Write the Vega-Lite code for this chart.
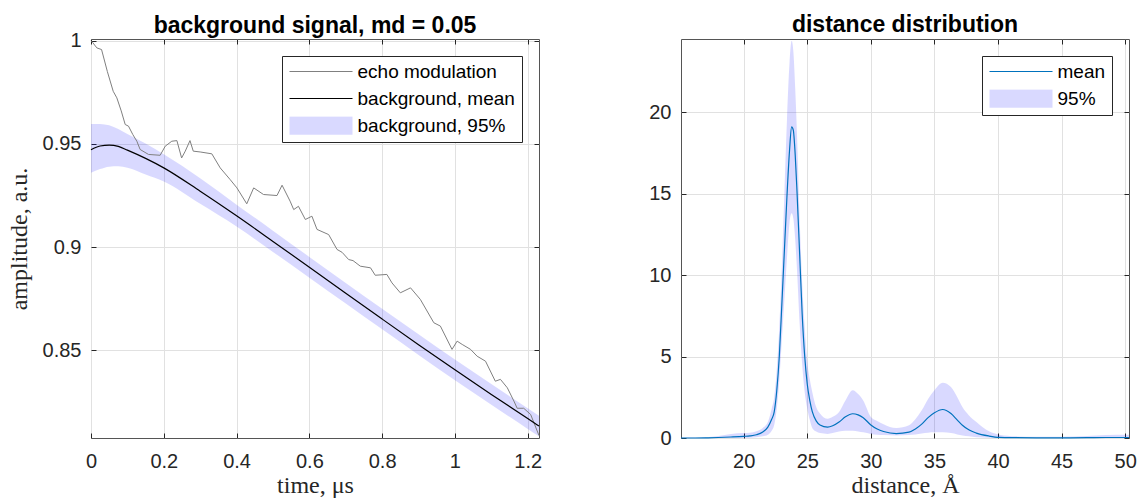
{
  "$schema": "https://vega.github.io/schema/vega-lite/v6.json",
  "background": "white",
  "padding": {"left": 6, "top": 13, "right": 0, "bottom": 0},
  "bounds": "flush",
  "spacing": 142,
  "datasets": {
    "echo": [
      {"t": 0.000, "amp": 1.0000}, {"t": 0.005, "amp": 0.9990}, {"t": 0.016, "amp": 0.9965}, {"t": 0.029, "amp": 0.9957},
      {"t": 0.045, "amp": 0.9850}, {"t": 0.061, "amp": 0.9755}, {"t": 0.071, "amp": 0.9723}, {"t": 0.083, "amp": 0.9660},
      {"t": 0.094, "amp": 0.9594}, {"t": 0.103, "amp": 0.9586}, {"t": 0.115, "amp": 0.9545}, {"t": 0.126, "amp": 0.9513},
      {"t": 0.135, "amp": 0.9473}, {"t": 0.158, "amp": 0.9449}, {"t": 0.190, "amp": 0.9445}, {"t": 0.204, "amp": 0.9489},
      {"t": 0.222, "amp": 0.9513}, {"t": 0.236, "amp": 0.9516}, {"t": 0.249, "amp": 0.9432}, {"t": 0.259, "amp": 0.9465},
      {"t": 0.272, "amp": 0.9516}, {"t": 0.281, "amp": 0.9465}, {"t": 0.300, "amp": 0.9461}, {"t": 0.332, "amp": 0.9452},
      {"t": 0.355, "amp": 0.9384}, {"t": 0.382, "amp": 0.9328}, {"t": 0.401, "amp": 0.9287}, {"t": 0.428, "amp": 0.9210},
      {"t": 0.447, "amp": 0.9287}, {"t": 0.474, "amp": 0.9255}, {"t": 0.511, "amp": 0.9250}, {"t": 0.525, "amp": 0.9300},
      {"t": 0.547, "amp": 0.9223}, {"t": 0.557, "amp": 0.9182}, {"t": 0.570, "amp": 0.9198}, {"t": 0.589, "amp": 0.9134},
      {"t": 0.607, "amp": 0.9150}, {"t": 0.621, "amp": 0.9086}, {"t": 0.653, "amp": 0.9061}, {"t": 0.676, "amp": 0.8989},
      {"t": 0.690, "amp": 0.8975}, {"t": 0.708, "amp": 0.8940}, {"t": 0.720, "amp": 0.8935}, {"t": 0.740, "amp": 0.8908},
      {"t": 0.768, "amp": 0.8900}, {"t": 0.781, "amp": 0.8864}, {"t": 0.813, "amp": 0.8868}, {"t": 0.827, "amp": 0.8827},
      {"t": 0.850, "amp": 0.8779}, {"t": 0.878, "amp": 0.8803}, {"t": 0.905, "amp": 0.8747}, {"t": 0.942, "amp": 0.8634},
      {"t": 0.960, "amp": 0.8618}, {"t": 0.992, "amp": 0.8505}, {"t": 1.006, "amp": 0.8545}, {"t": 1.020, "amp": 0.8529},
      {"t": 1.043, "amp": 0.8505}, {"t": 1.061, "amp": 0.8472}, {"t": 1.084, "amp": 0.8448}, {"t": 1.111, "amp": 0.8351},
      {"t": 1.125, "amp": 0.8360}, {"t": 1.144, "amp": 0.8319}, {"t": 1.162, "amp": 0.8255}, {"t": 1.171, "amp": 0.8220},
      {"t": 1.189, "amp": 0.8220}, {"t": 1.208, "amp": 0.8190}, {"t": 1.231, "amp": 0.8088}
    ],
    "bg": [
      {"t": 0.000, "mean": 0.9472, "lo": 0.9360, "hi": 0.9597},
      {"t": 0.025, "mean": 0.9490, "lo": 0.9378, "hi": 0.9597},
      {"t": 0.050, "mean": 0.9494, "lo": 0.9390, "hi": 0.9590},
      {"t": 0.075, "mean": 0.9488, "lo": 0.9392, "hi": 0.9572},
      {"t": 0.100, "mean": 0.9470, "lo": 0.9385, "hi": 0.9548},
      {"t": 0.150, "mean": 0.9430, "lo": 0.9352, "hi": 0.9502},
      {"t": 0.200, "mean": 0.9384, "lo": 0.9318, "hi": 0.9450},
      {"t": 0.300, "mean": 0.9271, "lo": 0.9210, "hi": 0.9334},
      {"t": 0.400, "mean": 0.9152, "lo": 0.9100, "hi": 0.9206},
      {"t": 0.500, "mean": 0.9028, "lo": 0.8977, "hi": 0.9080},
      {"t": 0.600, "mean": 0.8903, "lo": 0.8852, "hi": 0.8953},
      {"t": 0.700, "mean": 0.8777, "lo": 0.8727, "hi": 0.8827},
      {"t": 0.800, "mean": 0.8652, "lo": 0.8602, "hi": 0.8702},
      {"t": 0.900, "mean": 0.8528, "lo": 0.8478, "hi": 0.8578},
      {"t": 1.000, "mean": 0.8406, "lo": 0.8356, "hi": 0.8456},
      {"t": 1.100, "mean": 0.8287, "lo": 0.8237, "hi": 0.8337},
      {"t": 1.200, "mean": 0.8170, "lo": 0.8120, "hi": 0.8220},
      {"t": 1.231, "mean": 0.8134, "lo": 0.8084, "hi": 0.8184}
    ],
    "pr": [
      {"d": 15.07, "mean": 0.00, "lo": 0.00, "hi": 0.02},
      {"d": 16.0, "mean": 0.00, "lo": 0.00, "hi": 0.03},
      {"d": 17.0, "mean": 0.01, "lo": 0.00, "hi": 0.05},
      {"d": 18.0, "mean": 0.03, "lo": 0.00, "hi": 0.12},
      {"d": 19.0, "mean": 0.06, "lo": 0.00, "hi": 0.25},
      {"d": 20.0, "mean": 0.10, "lo": 0.00, "hi": 0.30},
      {"d": 20.5, "mean": 0.13, "lo": 0.02, "hi": 0.32},
      {"d": 21.0, "mean": 0.20, "lo": 0.05, "hi": 0.42},
      {"d": 21.5, "mean": 0.37, "lo": 0.10, "hi": 0.62},
      {"d": 21.9, "mean": 0.67, "lo": 0.20, "hi": 0.98},
      {"d": 22.2, "mean": 1.15, "lo": 0.45, "hi": 1.80},
      {"d": 22.4, "mean": 1.60, "lo": 0.80, "hi": 2.50},
      {"d": 22.6, "mean": 2.90, "lo": 1.80, "hi": 4.20},
      {"d": 22.8, "mean": 5.00, "lo": 3.50, "hi": 6.80},
      {"d": 23.0, "mean": 8.20, "lo": 6.00, "hi": 10.50},
      {"d": 23.2, "mean": 11.50, "lo": 8.50, "hi": 15.00},
      {"d": 23.4, "mean": 14.80, "lo": 11.00, "hi": 19.50},
      {"d": 23.6, "mean": 17.60, "lo": 13.20, "hi": 23.00},
      {"d": 23.77, "mean": 19.10, "lo": 13.80, "hi": 24.40},
      {"d": 23.9, "mean": 18.90, "lo": 13.50, "hi": 23.80},
      {"d": 24.05, "mean": 17.40, "lo": 12.20, "hi": 21.50},
      {"d": 24.2, "mean": 15.00, "lo": 10.20, "hi": 18.50},
      {"d": 24.4, "mean": 11.30, "lo": 7.00, "hi": 13.50},
      {"d": 24.6, "mean": 7.60, "lo": 4.50, "hi": 9.50},
      {"d": 24.8, "mean": 5.00, "lo": 2.80, "hi": 6.80},
      {"d": 25.0, "mean": 3.30, "lo": 1.80, "hi": 4.70},
      {"d": 25.2, "mean": 2.30, "lo": 1.10, "hi": 3.60},
      {"d": 25.4, "mean": 1.60, "lo": 0.60, "hi": 2.80},
      {"d": 25.7, "mean": 1.05, "lo": 0.40, "hi": 1.90},
      {"d": 26.0, "mean": 0.80, "lo": 0.30, "hi": 1.50},
      {"d": 26.6, "mean": 0.67, "lo": 0.25, "hi": 1.18},
      {"d": 27.0, "mean": 0.75, "lo": 0.30, "hi": 1.30},
      {"d": 27.5, "mean": 0.98, "lo": 0.40, "hi": 1.60},
      {"d": 28.0, "mean": 1.30, "lo": 0.45, "hi": 2.30},
      {"d": 28.57, "mean": 1.49, "lo": 0.45, "hi": 2.93},
      {"d": 29.0, "mean": 1.42, "lo": 0.40, "hi": 2.70},
      {"d": 29.4, "mean": 1.25, "lo": 0.35, "hi": 2.30},
      {"d": 30.0, "mean": 0.80, "lo": 0.25, "hi": 1.29},
      {"d": 30.5, "mean": 0.55, "lo": 0.20, "hi": 1.05},
      {"d": 31.0, "mean": 0.40, "lo": 0.18, "hi": 0.85},
      {"d": 32.0, "mean": 0.27, "lo": 0.15, "hi": 0.61},
      {"d": 33.0, "mean": 0.36, "lo": 0.18, "hi": 0.78},
      {"d": 33.5, "mean": 0.55, "lo": 0.22, "hi": 1.15},
      {"d": 34.0, "mean": 0.85, "lo": 0.28, "hi": 1.70},
      {"d": 34.5, "mean": 1.25, "lo": 0.33, "hi": 2.40},
      {"d": 35.0, "mean": 1.55, "lo": 0.35, "hi": 2.93},
      {"d": 35.65, "mean": 1.75, "lo": 0.35, "hi": 3.39},
      {"d": 36.3, "mean": 1.50, "lo": 0.30, "hi": 3.13},
      {"d": 36.8, "mean": 1.10, "lo": 0.22, "hi": 2.50},
      {"d": 37.2, "mean": 0.78, "lo": 0.15, "hi": 1.90},
      {"d": 37.7, "mean": 0.50, "lo": 0.10, "hi": 1.40},
      {"d": 38.3, "mean": 0.30, "lo": 0.05, "hi": 0.98},
      {"d": 39.3, "mean": 0.12, "lo": 0.02, "hi": 0.41},
      {"d": 40.1, "mean": 0.04, "lo": 0.00, "hi": 0.20},
      {"d": 41.4, "mean": 0.02, "lo": 0.00, "hi": 0.10},
      {"d": 43.0, "mean": 0.01, "lo": 0.00, "hi": 0.07},
      {"d": 45.0, "mean": 0.01, "lo": 0.00, "hi": 0.07},
      {"d": 47.0, "mean": 0.02, "lo": 0.00, "hi": 0.12},
      {"d": 48.5, "mean": 0.03, "lo": 0.00, "hi": 0.18},
      {"d": 50.3, "mean": 0.03, "lo": 0.00, "hi": 0.20}
    ]
  },
  "hconcat": [
    {
      "title": {"text": "background signal, md = 0.05", "dy": 9},
      "width": 448,
      "height": 399,
      "layer": [
        {
          "data": {"name": "bg"},
          "mark": {"type": "area", "opacity": 0.15, "interpolate": "monotone"},
          "encoding": {
            "x": {"field": "t", "type": "quantitative", "scale": {"domain": [0, 1.231], "nice": false, "zero": false},
                  "axis": {"values": [0, 0.2, 0.4, 0.6, 0.8, 1, 1.2], "format": "~g", "title": "time, μs", "grid": true}},
            "y": {"field": "lo", "type": "quantitative", "scale": {"domain": [0.8076, 1.0008], "nice": false, "zero": false},
                  "axis": {"values": [0.85, 0.9, 0.95, 1], "format": "~g", "title": "amplitude, a.u.", "grid": true, "minExtent": 51, "maxExtent": 51}},
            "y2": {"field": "hi"},
            "color": {"datum": "background, 95%", "type": "nominal",
                      "scale": {"domain": ["echo modulation", "background, mean", "background, 95%"], "range": ["#808080", "#000000", "#0000ff"]},
                      "legend": {"encode": {"symbols": {"update": {
                        "shape": {"signal": "datum.value === 'background, 95%' ? 'M-1,-0.29H1V0.29H-1Z' : 'stroke'"},
                        "fillOpacity": {"signal": "datum.value === 'background, 95%' ? 0.15 : 0"},
                        "stroke": {"signal": "datum.value === 'echo modulation' ? '#808080' : (datum.value === 'background, mean' ? '#000000' : '#ffffff')"},
                        "strokeOpacity": {"signal": "datum.value === 'background, 95%' ? 0 : 1"},
                        "strokeWidth": {"value": 1.2}, "opacity": {"value": 1}
                      }}}}}
          }
        },
        {
          "data": {"name": "echo"},
          "mark": {"type": "line", "strokeWidth": 1},
          "encoding": {
            "x": {"field": "t", "type": "quantitative", "axis": {"orient": "top", "labels": false, "title": null, "grid": false, "values": [0, 0.2, 0.4, 0.6, 0.8, 1, 1.2], "minExtent": 0, "maxExtent": 0}},
            "y": {"field": "amp", "type": "quantitative", "axis": {"orient": "right", "labels": false, "title": null, "grid": false, "values": [0.85, 0.9, 0.95, 1], "minExtent": 0, "maxExtent": 0}},
            "color": {"datum": "echo modulation", "type": "nominal",
                      "scale": {"domain": ["echo modulation", "background, mean", "background, 95%"], "range": ["#808080", "#000000", "#0000ff"]},
                      "legend": {"encode": {"symbols": {"update": {
                        "shape": {"signal": "datum.value === 'background, 95%' ? 'M-1,-0.29H1V0.29H-1Z' : 'stroke'"},
                        "fillOpacity": {"signal": "datum.value === 'background, 95%' ? 0.15 : 0"},
                        "stroke": {"signal": "datum.value === 'echo modulation' ? '#808080' : (datum.value === 'background, mean' ? '#000000' : '#ffffff')"},
                        "strokeOpacity": {"signal": "datum.value === 'background, 95%' ? 0 : 1"},
                        "strokeWidth": {"value": 1.2}, "opacity": {"value": 1}
                      }}}}}
          }
        },
        {
          "data": {"name": "bg"},
          "mark": {"type": "line", "strokeWidth": 1.2, "interpolate": "monotone"},
          "encoding": {
            "x": {"field": "t", "type": "quantitative", "axis": null},
            "y": {"field": "mean", "type": "quantitative", "axis": null},
            "color": {"datum": "background, mean", "type": "nominal",
                      "scale": {"domain": ["echo modulation", "background, mean", "background, 95%"], "range": ["#808080", "#000000", "#0000ff"]},
                      "legend": {"encode": {"symbols": {"update": {
                        "shape": {"signal": "datum.value === 'background, 95%' ? 'M-1,-0.29H1V0.29H-1Z' : 'stroke'"},
                        "fillOpacity": {"signal": "datum.value === 'background, 95%' ? 0.15 : 0"},
                        "stroke": {"signal": "datum.value === 'echo modulation' ? '#808080' : (datum.value === 'background, mean' ? '#000000' : '#ffffff')"},
                        "strokeOpacity": {"signal": "datum.value === 'background, 95%' ? 0 : 1"},
                        "strokeWidth": {"value": 1.2}, "opacity": {"value": 1}
                      }}}}}
          }
        }
      ],
      "resolve": {"axis": {"x": "independent", "y": "independent"}}
    },
    {
      "title": {"text": "distance distribution", "dy": 0},
      "width": 448,
      "height": 399,
      "data": {"name": "pr"},
      "layer": [
        {
          "mark": {"type": "area", "opacity": 0.15, "interpolate": "monotone"},
          "encoding": {
            "x": {"field": "d", "type": "quantitative", "scale": {"domain": [15.07, 50.3], "nice": false, "zero": false},
                  "axis": {"values": [20, 25, 30, 35, 40, 45, 50], "title": "distance, Å", "grid": true}},
            "y": {"field": "lo", "type": "quantitative", "scale": {"domain": [0, 24.5], "nice": false},
                  "axis": {"values": [0, 5, 10, 15, 20], "title": null, "grid": true}},
            "y2": {"field": "hi"},
            "color": {"datum": "95%", "type": "nominal",
                      "scale": {"domain": ["mean", "95%"], "range": ["#0072BD", "#0000ff"]},
                      "legend": {"encode": {"symbols": {"update": {
                        "shape": {"signal": "datum.value === '95%' ? 'M-1,-0.29H1V0.29H-1Z' : 'stroke'"},
                        "fillOpacity": {"signal": "datum.value === '95%' ? 0.15 : 0"},
                        "stroke": {"signal": "datum.value === 'mean' ? '#0072BD' : '#ffffff'"},
                        "strokeOpacity": {"signal": "datum.value === '95%' ? 0 : 1"},
                        "strokeWidth": {"value": 1.2}, "opacity": {"value": 1}
                      }}}}}
          }
        },
        {
          "mark": {"type": "line", "strokeWidth": 1.2, "interpolate": "monotone"},
          "encoding": {
            "x": {"field": "d", "type": "quantitative", "axis": {"orient": "top", "labels": false, "title": null, "grid": false, "values": [20, 25, 30, 35, 40, 45, 50], "minExtent": 0, "maxExtent": 0}},
            "y": {"field": "mean", "type": "quantitative", "axis": {"orient": "right", "labels": false, "title": null, "grid": false, "values": [0, 5, 10, 15, 20], "minExtent": 0, "maxExtent": 0}},
            "color": {"datum": "mean", "type": "nominal",
                      "scale": {"domain": ["mean", "95%"], "range": ["#0072BD", "#0000ff"]},
                      "legend": {"encode": {"symbols": {"update": {
                        "shape": {"signal": "datum.value === '95%' ? 'M-1,-0.29H1V0.29H-1Z' : 'stroke'"},
                        "fillOpacity": {"signal": "datum.value === '95%' ? 0.15 : 0"},
                        "stroke": {"signal": "datum.value === 'mean' ? '#0072BD' : '#ffffff'"},
                        "strokeOpacity": {"signal": "datum.value === '95%' ? 0 : 1"},
                        "strokeWidth": {"value": 1.2}, "opacity": {"value": 1}
                      }}}}}
          }
        }
      ],
      "resolve": {"axis": {"x": "independent", "y": "independent"}}
    }
  ],
  "resolve": {"scale": {"color": "independent"}, "legend": {"color": "independent"}},
  "config": {
    "view": {"stroke": "#555555", "strokeWidth": 1},
    "title": {"font": "Liberation Sans", "fontSize": 23, "fontWeight": "bold", "color": "#000000", "offset": 2, "anchor": "middle", "frame": "group"},
    "axis": {"labelFont": "Liberation Sans", "labelFontSize": 20, "labelColor": "#262626", "tickColor": "#262626", "tickSize": -5, "labelFlush": false,
             "gridColor": "#e1e1e1", "domain": false, "titleFont": "Liberation Serif", "titleFontSize": 24, "titleFontWeight": "normal", "titleColor": "#262626"},
    "axisX": {"labelPadding": 18.5, "titlePadding": 2},
    "axisY": {"labelPadding": 15, "titlePadding": 9},
    "legend": {"orient": "top-right", "offset": 17, "title": null, "labelFont": "Liberation Sans", "labelFontSize": 19, "labelColor": "#000000",
               "padding": 6.5, "rowPadding": 8, "clipHeight": 18, "symbolSize": 3969, "labelOffset": 4, "symbolOpacity": 1,
               "strokeColor": "#262626", "fillColor": "#ffffff"}
  }
}
